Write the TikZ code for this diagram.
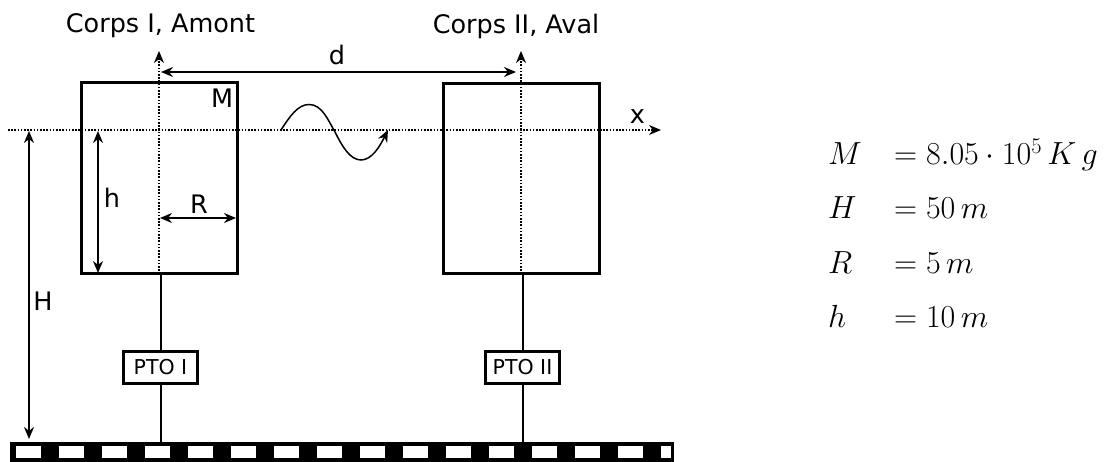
\documentclass[tikz,border=0pt]{standalone}
\usepackage{fix-cm}
\usepackage{fontspec}
\setmainfont{DejaVu Sans}
\usetikzlibrary{arrows.meta}
\tikzset{
  body/.style={draw=black,line width=3pt,fill=none,inner sep=0pt},
  pto/.style={draw=black,line width=3pt,fill=white,inner sep=0pt,minimum width=74pt,minimum height=32pt,font=\fontsize{20.5}{24}\selectfont},
  lab/.style={inner sep=0pt,font=\fontsize{25.5}{30}\selectfont,text=black},
  eq/.style={inner sep=0pt,anchor=base west,font=\fontsize{32}{37}\selectfont,text=black},
  axis/.style={line width=1.6pt,dash pattern=on 1.6pt off 1.6pt,-{Stealth[length=12pt,width=10pt]}},
  dim/.style={line width=1.5pt,{Stealth[length=12pt,width=10pt]}-{Stealth[length=12pt,width=10pt]}},
  rod/.style={line width=2pt},
  wave/.style={line width=1.5pt,-{Stealth[length=12pt,width=10pt]}}
}
\begin{document}
\begin{tikzpicture}[x=1pt,y=-1pt]
\useasboundingbox (0,0) rectangle (1106,462);
% ground
\fill[black] (10,442) rectangle (674,462);
\foreach \i in {0,...,14} {\fill[white] ({16+43*\i},446) rectangle ({41+43*\i},458);}
\fill[white] (661,446) rectangle (671,458);
% named points
\coordinate (axisL) at (8,130);
\coordinate (axisR) at (661,130);
\coordinate (vItop) at (159,51);
\coordinate (vIbot) at (159,274);
\coordinate (vIItop) at (521,51);
\coordinate (vIIbot) at (521,274);
\coordinate (gI) at (160,442);
\coordinate (gII) at (522,442);
\coordinate (dA) at (161,72);
\coordinate (dB) at (516,72);
\coordinate (hA) at (98,131);
\coordinate (hB) at (98,273);
\coordinate (HA) at (29,131);
\coordinate (HB) at (29,439);
\coordinate (RA) at (160,218);
\coordinate (RB) at (236,218);
\coordinate (wA) at (281,130);
\coordinate (wP) at (309,104.5);
\coordinate (wM) at (335,132);
\coordinate (wQ) at (361,160);
\coordinate (wB) at (388,130);
% bodies
\node[body,minimum width=156pt,minimum height=191pt] (bodyI) at (159,178.5) {};
\node[body,minimum width=156pt,minimum height=190pt] (bodyII) at (521,179) {};
% PTO
\node[pto] (ptoI) at (160.5,367.5) {PTO I};
\node[pto] (ptoII) at (522.5,367.5) {PTO II};
% rods
\draw[rod] (ptoI.north |- bodyI.south) -- (ptoI.north);
\draw[rod] (ptoI.south) -- (ptoI.south |- gI);
\draw[rod] (ptoII.north |- bodyII.south) -- (ptoII.north);
\draw[rod] (ptoII.south) -- (ptoII.south |- gII);
% axes
\draw[axis] (axisL) -- (axisR);
\draw[axis] (vIbot) -- (vItop);
\draw[axis] (vIIbot) -- (vIItop);
% dimensions
\draw[dim] (dA) -- (dB);
\draw[dim] (hA) -- (hB);
\draw[dim] (HA) -- (HB);
\draw[dim] (RA) -- (RB);
% wave
\draw[wave] (wA) .. controls (290,116) and (298,104.5) .. (wP)
  .. controls (322,104.5) and (328,120) .. (wM)
  .. controls (342,146) and (350,160) .. (wQ)
  .. controls (372,160) and (380,146) .. (wB);
% labels
\node[lab] (tI) at (160.5,26) {Corps I, Amont};
\node[lab] (tII) at (516,26.5) {Corps II, Aval};
\node[lab] (ld) at (337,54.5) {d};
\node[lab] (lx) at (637.5,117) {x};
\node[lab] (lM) at (222,98.5) {M};
\node[lab] (lh) at (112,198) {h};
\node[lab] (lR) at (199,204) {R};
\node[lab] (lH) at (43,301) {H};
% equations
\node[eq] (e1) at (828,165) {$M$};
\node[eq] (v1) at (894,165) {$=8.05\cdot10^{5}\,K\,g$};
\node[eq] (e2) at (828,219) {$H$};
\node[eq] (v2) at (894,219) {$=50\,m$};
\node[eq] (e3) at (828,273.5) {$R$};
\node[eq] (v3) at (894,273.5) {$=5\,m$};
\node[eq] (e4) at (828,327.5) {$h$};
\node[eq] (v4) at (894,327.5) {$=10\,m$};
\end{tikzpicture}
\end{document}
